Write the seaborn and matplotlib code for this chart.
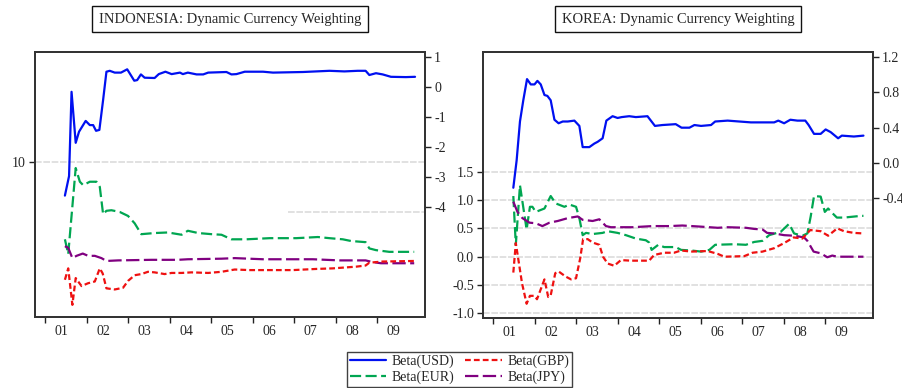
import numpy as np
import pandas as pd
import matplotlib
matplotlib.use("Agg")
import matplotlib.pyplot as plt
import seaborn as sns
from matplotlib.lines import Line2D

sns.set_style("white")
plt.rcParams['font.family'] = ['Liberation Serif', 'DejaVu Serif']

# ---------------- data ----------------
years = list(range(2001, 2010))
year_labels = ["01", "02", "03", "04", "05", "06", "07", "08", "09"]

titles = ["INDONESIA: Dynamic Currency Weighting", "KOREA: Dynamic Currency Weighting"]
series_names = ["Beta(USD)", "Beta(EUR)", "Beta(GBP)", "Beta(JPY)"]

# Indonesia
idn_usd_t = [2001.48, 2001.58, 2001.64, 2001.74, 2001.82, 2001.98, 2002.08, 2002.16, 2002.23, 2002.31,
             2002.40, 2002.48, 2002.56, 2002.68, 2002.83, 2002.98, 2003.15, 2003.22, 2003.31, 2003.40,
             2003.64, 2003.74, 2003.90, 2004.05, 2004.25, 2004.32, 2004.44, 2004.65, 2004.81, 2004.93,
             2005.37, 2005.49, 2005.61, 2005.81, 2006.25, 2006.49, 2007.21, 2007.85, 2008.21, 2008.53,
             2008.72, 2008.81, 2008.97, 2009.13, 2009.33, 2009.69, 2009.91]
idn_usd = [-3.62, -2.97, -0.16, -1.86, -1.49, -1.13, -1.27, -1.27, -1.46, -1.43,
           -0.43, 0.51, 0.54, 0.48, 0.48, 0.59, 0.21, 0.23, 0.42, 0.31,
           0.30, 0.43, 0.51, 0.43, 0.48, 0.43, 0.48, 0.42, 0.42, 0.48,
           0.50, 0.42, 0.43, 0.51, 0.51, 0.48, 0.50, 0.54, 0.52, 0.54,
           0.54, 0.40, 0.46, 0.42, 0.34, 0.33, 0.34]

idn_eur_t = [2001.48, 2001.56, 2001.74, 2001.84, 2001.92, 2002.08, 2002.24, 2002.32, 2002.40, 2002.48,
             2002.60, 2002.80, 2003.00, 2003.16, 2003.32, 2003.64, 2003.96, 2004.29, 2004.44, 2004.69,
             2005.01, 2005.25, 2005.49, 2005.85, 2006.41, 2007.05, 2007.57, 2007.85, 2008.17, 2008.37,
             2008.72, 2008.81, 2008.97, 2009.29, 2009.89]
idn_eur = [0.31, 0.05, 1.56, 1.32, 1.26, 1.32, 1.32, 1.23, 0.75, 0.81,
           0.82, 0.79, 0.72, 0.59, 0.40, 0.42, 0.43, 0.39, 0.46, 0.42,
           0.40, 0.39, 0.31, 0.31, 0.33, 0.33, 0.35, 0.33, 0.31, 0.28,
           0.26, 0.15, 0.12, 0.09, 0.09]

idn_gbp_t = [2001.48, 2001.56, 2001.66, 2001.74, 2001.88, 2002.04, 2002.20, 2002.32, 2002.39, 2002.48,
             2002.68, 2002.88, 2003.00, 2003.16, 2003.32, 2003.48, 2003.64, 2003.88, 2004.05, 2004.29,
             2004.53, 2004.93, 2005.25, 2005.57, 2005.93, 2006.97, 2007.53, 2007.93, 2008.49, 2008.72,
             2008.81, 2009.13, 2009.89]
idn_gbp = [-0.40, -0.20, -0.84, -0.37, -0.51, -0.46, -0.43, -0.20, -0.29, -0.55,
           -0.57, -0.54, -0.42, -0.32, -0.30, -0.26, -0.27, -0.30, -0.28, -0.28,
           -0.27, -0.28, -0.26, -0.22, -0.23, -0.23, -0.21, -0.20, -0.17, -0.15,
           -0.10, -0.08, -0.07]

idn_jpy_t = [2001.48, 2001.56, 2001.66, 2001.76, 2001.91, 2002.04, 2002.20, 2002.36, 2002.48, 2002.76,
             2003.56, 2004.20, 2004.44, 2005.25, 2005.57, 2006.25, 2007.45, 2008.09, 2008.72, 2008.89,
             2009.09, 2009.89]
idn_jpy = [0.19, 0.16, -0.02, 0.02, 0.06, 0.02, 0.02, -0.02, -0.07, -0.06,
           -0.05, -0.05, -0.04, -0.03, -0.02, -0.04, -0.04, -0.06, -0.06, -0.09,
           -0.11, -0.11]

# Korea
kor_usd_t = [2001.49, 2001.57, 2001.65, 2001.73, 2001.82, 2001.91, 2002.00, 2002.07, 2002.15, 2002.24,
             2002.31, 2002.39, 2002.48, 2002.58, 2002.68, 2002.80, 2002.96, 2003.08, 2003.16, 2003.32,
             2003.44, 2003.52, 2003.64, 2003.73, 2003.88, 2004.00, 2004.10, 2004.28, 2004.44, 2004.72,
             2004.90, 2005.08, 2005.40, 2005.54, 2005.73, 2005.85, 2006.01, 2006.25, 2006.35, 2006.65,
             2007.21, 2007.77, 2007.87, 2008.01, 2008.16, 2008.33, 2008.52, 2008.60, 2008.73, 2008.89,
             2009.01, 2009.13, 2009.31, 2009.40, 2009.69, 2009.92]
kor_usd = [-0.28, 0.03, 0.47, 0.71, 0.95, 0.89, 0.89, 0.93, 0.89, 0.77,
           0.76, 0.71, 0.49, 0.45, 0.47, 0.47, 0.48, 0.42, 0.18, 0.18,
           0.22, 0.24, 0.28, 0.48, 0.53, 0.51, 0.52, 0.53, 0.52, 0.53,
           0.42, 0.43, 0.44, 0.40, 0.40, 0.43, 0.42, 0.43, 0.47, 0.48,
           0.46, 0.46, 0.48, 0.45, 0.49, 0.48, 0.48, 0.43, 0.33, 0.33,
           0.38, 0.35, 0.28, 0.31, 0.30, 0.31]

kor_eur_t = [2001.49, 2001.55, 2001.65, 2001.81, 2001.89, 2001.95, 2002.03, 2002.24, 2002.39, 2002.51,
             2002.72, 2002.84, 2003.00, 2003.08, 2003.16, 2003.24, 2003.40, 2003.64, 2003.76, 2004.00,
             2004.20, 2004.44, 2004.68, 2004.76, 2004.82, 2004.98, 2005.12, 2005.40, 2005.53, 2005.77,
             2006.01, 2006.21, 2006.35, 2006.81, 2007.09, 2007.29, 2007.49, 2007.65, 2007.93, 2008.13,
             2008.25, 2008.45, 2008.57, 2008.65, 2008.73, 2008.89, 2008.99, 2009.07, 2009.17, 2009.28,
             2009.45, 2009.86, 2009.92]
kor_eur = [1.07, 0.21, 1.26, 0.48, 0.88, 0.88, 0.79, 0.85, 1.07, 0.94,
           0.88, 0.92, 0.88, 0.68, 0.38, 0.42, 0.40, 0.42, 0.45, 0.42,
           0.38, 0.32, 0.29, 0.25, 0.12, 0.21, 0.17, 0.17, 0.12, 0.11,
           0.09, 0.12, 0.21, 0.22, 0.21, 0.26, 0.28, 0.38, 0.44, 0.58,
           0.41, 0.37, 0.41, 0.71, 1.07, 1.06, 0.79, 0.85, 0.77, 0.69,
           0.69, 0.72, 0.72]

kor_gbp_t = [2001.49, 2001.55, 2001.70, 2001.81, 2001.89, 2002.00, 2002.06, 2002.24, 2002.33, 2002.39,
             2002.50, 2002.58, 2002.75, 2002.88, 2003.00, 2003.10, 2003.17, 2003.28, 2003.40, 2003.56,
             2003.65, 2003.76, 2003.92, 2004.08, 2004.32, 2004.76, 2004.88, 2005.00, 2005.12, 2005.36,
             2005.53, 2005.77, 2006.17, 2006.41, 2006.57, 2007.05, 2007.25, 2007.49, 2007.77, 2008.01,
             2008.24, 2008.45, 2008.64, 2008.89, 2009.07, 2009.29, 2009.45, 2009.69, 2009.92]
kor_gbp = [-0.28, 0.24, -0.47, -0.83, -0.69, -0.69, -0.75, -0.40, -0.71, -0.68,
           -0.29, -0.26, -0.35, -0.40, -0.38, -0.03, 0.31, 0.31, 0.25, 0.21,
           0.00, -0.12, -0.16, -0.06, -0.07, -0.07, 0.03, 0.05, 0.07, 0.07,
           0.11, 0.09, 0.10, 0.05, 0.00, 0.01, 0.07, 0.09, 0.15, 0.24,
           0.34, 0.32, 0.47, 0.45, 0.37, 0.50, 0.45, 0.42, 0.41]

kor_jpy_t = [2001.49, 2001.59, 2001.71, 2001.88, 2002.03, 2002.19, 2002.36, 2002.56, 2002.80, 2003.04,
             2003.16, 2003.40, 2003.56, 2003.72, 2003.84, 2004.36, 2004.84, 2005.24, 2005.56, 2006.01,
             2006.41, 2006.65, 2007.09, 2007.29, 2007.49, 2007.60, 2007.77, 2008.01, 2008.25, 2008.49,
             2008.57, 2008.72, 2008.89, 2009.05, 2009.17, 2009.29, 2009.53, 2009.92]
kor_jpy = [0.97, 0.79, 0.68, 0.60, 0.59, 0.54, 0.60, 0.63, 0.68, 0.71,
           0.65, 0.63, 0.66, 0.54, 0.52, 0.52, 0.54, 0.54, 0.55, 0.53,
           0.51, 0.52, 0.51, 0.49, 0.48, 0.42, 0.41, 0.38, 0.37, 0.34,
           0.28, 0.09, 0.06, -0.01, 0.02, 0.00, 0.00, 0.00]

# axis ticks
idn_right_ticks = [1, 0, -1, -2, -3, -4]
idn_left_tick = [1.667]
idn_left_tick_label = ["10"]
kor_right_ticks = [1.2, 0.8, 0.4, 0.0, -0.4]
kor_left_ticks = [1.5, 1.0, 0.5, 0.0, -0.5, -1.0]

# ---------------- styles ----------------
COL = {"Beta(USD)": "#0010F0", "Beta(EUR)": "#00A651",
       "Beta(GBP)": "#EE1111", "Beta(JPY)": "#800080"}
LS = {"Beta(USD)": "-", "Beta(EUR)": (0, (5, 2)),
      "Beta(GBP)": (0, (2.6, 1.4)), "Beta(JPY)": (0, (6, 2))}
LW = 1.6
FS = 10
FRAME = "#333333"
GRID = "#DCDCDC"

fig = plt.figure(figsize=(9.03, 3.88), dpi=100)
XLIM = (2000.76, 2010.15)


def draw(ax, t, v, name):
    df = pd.DataFrame({"t": t, "v": v})
    sns.lineplot(data=df, x="t", y="v", ax=ax, color=COL[name], linestyle=LS[name],
                 linewidth=LW, label=name, legend=False, sort=False, estimator=None)


def style_axes(ax, ax2):
    ax.set_xlim(*XLIM)
    ax.set_xticks(years)
    ax.set_xticklabels([""] * len(years))
    ax.set_xticks([y + 0.4 for y in years], minor=True)
    ax.set_xticklabels(year_labels, minor=True, fontsize=FS)
    ax.tick_params(axis="x", which="major", direction="out", length=4.5, width=1, color="#222222", bottom=True)
    ax.tick_params(axis="x", which="minor", length=0, pad=6, bottom=True)
    ax.tick_params(axis="y", direction="out", length=4.5, width=1, color="#222222", labelsize=FS, left=True, pad=2)
    ax2.tick_params(axis="y", direction="out", length=4.5, width=1, color="#222222", labelsize=FS, right=True, pad=2)
    for a in (ax, ax2):
        a.set_xlabel("")
        a.set_ylabel("")
        for s in a.spines.values():
            s.set_color(FRAME)
            s.set_linewidth(1.3)


# ---------------- Indonesia ----------------
ax1 = fig.add_axes([35 / 903, 71 / 388, 390 / 903, 265 / 388])
ax1r = ax1.twinx()
ax1.set_ylim(-1.053, 3.596)
ax1r.set_ylim(-7.667, 1.167)
ax1.axhline(idn_left_tick[0], color=GRID, lw=1.2, ls=(0, (4, 1)), zorder=0)
ax1.plot([2006.84, XLIM[1]], [0.79, 0.79], color=GRID, lw=1.2, ls=(0, (4, 1)), zorder=0)
draw(ax1, idn_eur_t, idn_eur, "Beta(EUR)")
draw(ax1, idn_jpy_t, idn_jpy, "Beta(JPY)")
draw(ax1, idn_gbp_t, idn_gbp, "Beta(GBP)")
draw(ax1r, idn_usd_t, idn_usd, "Beta(USD)")
ax1.set_yticks(idn_left_tick)
ax1.set_yticklabels(idn_left_tick_label)
ax1r.set_yticks(idn_right_ticks)
ax1r.set_yticklabels([str(v) for v in idn_right_ticks])
style_axes(ax1, ax1r)

# ---------------- Korea ----------------
ax2 = fig.add_axes([483 / 903, 70 / 388, 390 / 903, 266 / 388])
ax2r = ax2.twinx()
ax2.set_ylim(-1.081, 3.61)
ax2r.set_ylim(-1.755, 1.257)
for g in kor_left_ticks:
    ax2.axhline(g, color=GRID, lw=1.2, ls=(0, (4, 1)), zorder=0)
draw(ax2, kor_eur_t, kor_eur, "Beta(EUR)")
draw(ax2, kor_jpy_t, kor_jpy, "Beta(JPY)")
draw(ax2, kor_gbp_t, kor_gbp, "Beta(GBP)")
draw(ax2r, kor_usd_t, kor_usd, "Beta(USD)")
ax2.set_yticks(kor_left_ticks)
ax2.set_yticklabels([f"{v:.1f}" for v in kor_left_ticks])
ax2r.set_yticks(kor_right_ticks)
ax2r.set_yticklabels([f"{v:.1f}" for v in kor_right_ticks])
style_axes(ax2, ax2r)

# ---------------- titles ----------------
for xc, title in zip([230 / 903, 678 / 903], titles):
    fig.text(xc, 1 - 19 / 388, title, ha="center", va="center", fontsize=10.5,
             bbox=dict(boxstyle="square,pad=0.45", fc="white", ec="#111111", lw=1))

# ---------------- legend ----------------
handles = [Line2D([], [], color=COL[n], ls=LS[n], lw=LW) for n in series_names]
leg = fig.legend(handles, series_names, ncol=2, loc="upper center",
                 bbox_to_anchor=(459.5 / 903, 1 - 352 / 388), borderaxespad=0, fontsize=FS,
                 frameon=True, fancybox=False, edgecolor="#111111", borderpad=0.2,
                 handlelength=2.6, handletextpad=0.4, columnspacing=0.8, labelspacing=0.15)
leg.get_frame().set_linewidth(1)

fig.savefig("out.png", dpi=100)
